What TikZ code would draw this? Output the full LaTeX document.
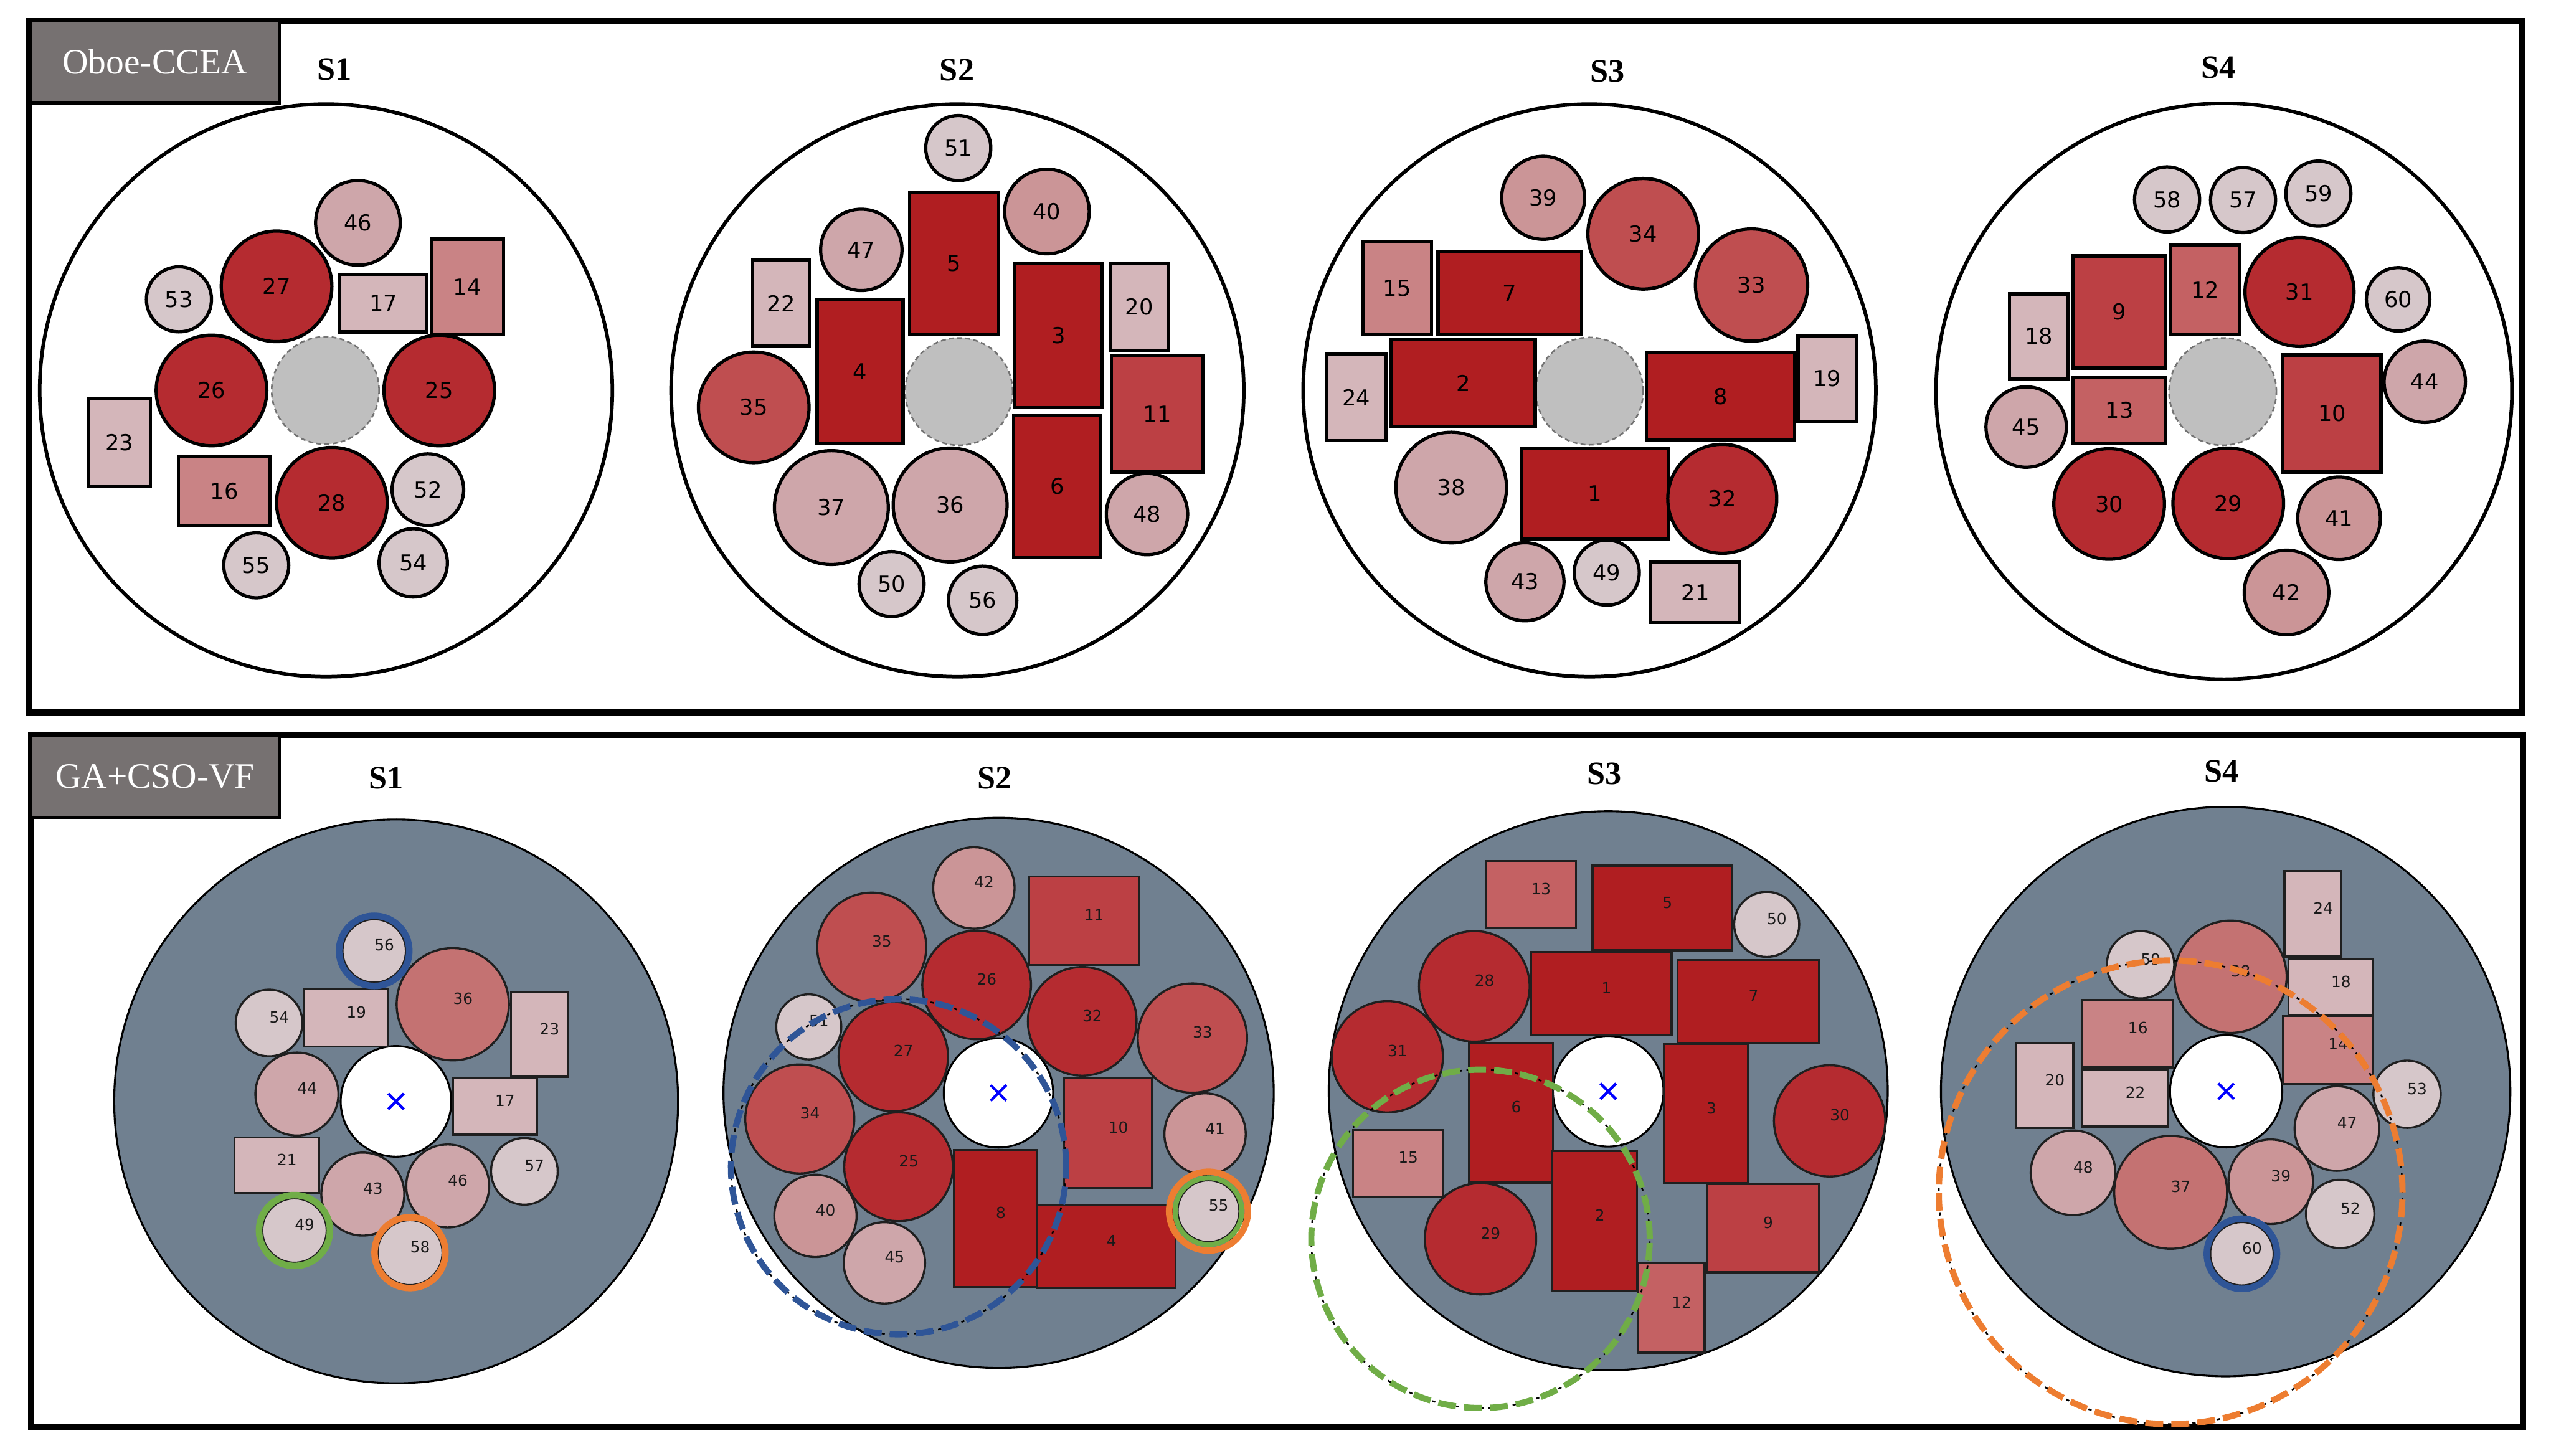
\documentclass[tikz,border=0pt]{standalone}
\usepackage{fontspec}
\setmainfont{Liberation Serif}
\newfontfamily\numfont{DejaVu Sans}
\usetikzlibrary{shapes.misc}
\definecolor{cDR}{HTML}{B01E21}
\definecolor{cRC}{HTML}{B52B30}
\definecolor{cMR}{HTML}{BF4E50}
\definecolor{cR9}{HTML}{BC4044}
\definecolor{cR12}{HTML}{C46163}
\definecolor{cR14}{HTML}{C98385}
\definecolor{cR17}{HTML}{D4B6BA}
\definecolor{cP36}{HTML}{CEA6AA}
\definecolor{cB36}{HTML}{C47272}
\definecolor{cP39}{HTML}{CB9597}
\definecolor{cP43}{HTML}{CEA6AA}
\definecolor{cL49}{HTML}{D6C7CA}
\definecolor{cBox}{HTML}{767171}
\definecolor{cSlate}{HTML}{708090}
\definecolor{cGrayC}{HTML}{BFBFBF}
\definecolor{cBlue}{HTML}{2F5597}
\definecolor{cGreen}{HTML}{70AD47}
\definecolor{cOrange}{HTML}{ED7D31}
\newcommand\TopCirc[6]{\node[tcirc, fill=#5, minimum size={2*#4*1pt}] (#1) at (#2,#3) {#6};}
\newcommand\TopRect[7]{\node[trect, fill=#6, minimum width={(#4-#2)*1pt}, minimum height={(#5-#3)*1pt}] (#1) at ({(#2+#4)/2},{(#3+#5)/2}) {#7};}
\newcommand\BotCirc[6]{\node[bcirc, fill=#5, minimum size={2*#4*1pt}] (#1) at (#2,#3) {}; \node[blbl] (#1t) at (#1.center) {#6};}
\newcommand\BotRect[7]{\node[brect, fill=#6, minimum width={(#4-#2)*1pt}, minimum height={(#5-#3)*1pt}] (#1) at ({(#2+#4)/2},{(#3+#5)/2}) {}; \node[blbl] (#1t) at (#1.center) {#7};}
\begin{document}
\begin{tikzpicture}[x=1pt,y=-1pt,
  frame/.style={draw=black, line width=3.6pt},
  labbox/.style={rectangle, fill=cBox, draw=black, line width=2pt, text=white, inner sep=0pt, font=\fontsize{22}{24}\selectfont},
  ttl/.style={inner sep=0pt, font=\bfseries\fontsize{20}{22}\selectfont},
  tshape/.style={draw=black, line width=2pt, inner sep=0pt, font=\numfont\fontsize{13.5}{14}\selectfont},
  tcirc/.style={tshape, circle},
  trect/.style={tshape, rectangle},
  bigt/.style={circle, draw=black, line width=2.2pt, fill=white, inner sep=0pt},
  grayc/.style={circle, fill=cGrayC, draw=black!55, line width=1pt, densely dashed, inner sep=0pt, minimum size=66pt},
  bshape/.style={draw=black!88, line width=1.3pt, inner sep=0pt},
  bcirc/.style={bshape, circle},
  brect/.style={bshape, rectangle},
  blbl/.style={anchor=base west, inner sep=0pt, font=\numfont\fontsize{9.5}{10}\selectfont, text=black!90},
  bigb/.style={circle, draw=black, line width=1.2pt, fill=cSlate, inner sep=0pt},
  whitec/.style={circle, draw=black, line width=1.2pt, fill=white, inner sep=0pt, minimum size=68pt},
  xmark/.style={cross out, draw=blue, line width=1.6pt, minimum size=8pt, inner sep=0pt},
  ring/.style={draw=#1, line width=4pt},
  dring/.style={draw=#1, line width=3.8pt, dash pattern=on 11pt off 5pt},
  dunder/.style={draw=black, line width=1pt, dash pattern=on 2pt off 3pt}
]
\useasboundingbox (0,0) rectangle (1568,895);
\fill[white] (0,0) rectangle (1568,895);

% ---------------- TOP ROW: Oboe-CCEA ----------------
\draw[frame] (18,13) rectangle (1550,438);
\node[labbox, minimum width=152.6pt, minimum height=50.4pt] (labA) at (95.3,38) {Oboe-CCEA};
\node[ttl] (tS1) at (205.5,42.7) {S1};
\node[ttl] (tS2) at (588.2,43.2) {S2};
\node[ttl] (tS3) at (988,44) {S3};
\node[ttl] (tS4) at (1363.5,41.5) {S4};

% S1
\node[bigt, minimum size=352pt] (t1big) at (200.4,240) {};
\node[grayc] (t1g) at (200,240) {};
\TopCirc{t1n46}{220}{137}{26}{cP43}{46}
\TopCirc{t1n27}{170}{176}{34}{cRC}{27}
\TopCirc{t1n53}{110}{184}{20}{cL49}{53}
\TopRect{t1n17}{208.8}{168.7}{262.4}{204}{cR17}{17}
\TopRect{t1n14}{265}{147}{309.4}{205.4}{cR14}{14}
\TopCirc{t1n26}{130}{240}{34}{cRC}{26}
\TopCirc{t1n25}{270}{240}{34}{cRC}{25}
\TopRect{t1n23}{54.6}{244.7}{92.4}{299.3}{cR17}{23}
\TopRect{t1n16}{109.8}{280.8}{166}{323}{cR14}{16}
\TopCirc{t1n28}{204}{309}{34}{cRC}{28}
\TopCirc{t1n52}{263}{301}{22}{cL49}{52}
\TopCirc{t1n55}{157.5}{347.5}{20}{cL49}{55}
\TopCirc{t1n54}{254}{346}{21}{cL49}{54}

% S2
\node[bigt, minimum size=352pt] (t2big) at (588.5,240) {};
\node[grayc] (t2g) at (589.4,240.7) {};
\TopCirc{t2n51}{589}{91}{20}{cL49}{51}
\TopCirc{t2n40}{643.5}{130}{26}{cP39}{40}
\TopRect{t2n5}{559.1}{118}{613.8}{205.4}{cDR}{5}
\TopCirc{t2n47}{529.4}{153.6}{25}{cP43}{47}
\TopRect{t2n22}{462.6}{160}{497.6}{212.8}{cR17}{22}
\TopRect{t2n3}{623.5}{162}{677.6}{250.4}{cDR}{3}
\TopRect{t2n20}{682.7}{162}{717.9}{215.4}{cR17}{20}
\TopRect{t2n4}{502.2}{184.4}{555.1}{272.6}{cDR}{4}
\TopCirc{t2n35}{463.3}{250.4}{34}{cMR}{35}
\TopRect{t2n11}{683}{218.5}{739.6}{290.2}{cR9}{11}
\TopRect{t2n6}{623}{255.2}{676.6}{342.8}{cDR}{6}
\TopCirc{t2n37}{511}{312}{35}{cP36}{37}
\TopCirc{t2n36}{584}{310.4}{35}{cP36}{36}
\TopCirc{t2n48}{705}{316}{25}{cP43}{48}
\TopCirc{t2n50}{548}{359}{20}{cL49}{50}
\TopCirc{t2n56}{604}{369}{21}{cL49}{56}

% S3
\node[bigt, minimum size=352pt] (t3big) at (977,240) {};
\node[grayc] (t3g) at (977,240.4) {};
\TopCirc{t3n39}{948.5}{121.6}{25.5}{cP39}{39}
\TopCirc{t3n34}{1010}{143.7}{34}{cMR}{34}
\TopCirc{t3n33}{1076.6}{175.2}{34.5}{cMR}{33}
\TopRect{t3n15}{837.7}{148.8}{879.8}{205.4}{cR14}{15}
\TopRect{t3n7}{883.9}{154.5}{972}{205.7}{cDR}{7}
\TopRect{t3n2}{855}{208.5}{943.6}{262.3}{cDR}{2}
\TopRect{t3n24}{815.5}{217.6}{852}{270.8}{cR17}{24}
\TopRect{t3n8}{1012}{216.8}{1103.2}{270.3}{cDR}{8}
\TopRect{t3n19}{1105.2}{206.3}{1141}{259}{cR17}{19}
\TopCirc{t3n38}{892}{299.7}{34}{cP36}{38}
\TopRect{t3n1}{935}{275.4}{1025.3}{331.4}{cDR}{1}
\TopCirc{t3n32}{1058.6}{306.6}{33.5}{cRC}{32}
\TopCirc{t3n43}{937.3}{357.6}{24}{cP43}{43}
\TopCirc{t3n49}{987.6}{352}{20}{cL49}{49}
\TopRect{t3n21}{1014.6}{345.7}{1069.5}{382.7}{cR17}{21}

% S4
\node[bigt, minimum size=354pt] (t4big) at (1367,240.5) {};
\node[grayc] (t4g) at (1366.2,240.7) {};
\TopCirc{t4n58}{1332}{122.6}{20}{cL49}{58}
\TopCirc{t4n57}{1378.7}{123}{20}{cL49}{57}
\TopCirc{t4n59}{1425}{119}{20}{cL49}{59}
\TopRect{t4n9}{1274.1}{157.3}{1330.8}{226.2}{cR9}{9}
\TopRect{t4n12}{1334.3}{150.8}{1376.5}{205.4}{cR12}{12}
\TopCirc{t4n31}{1413.4}{179.5}{33.5}{cRC}{31}
\TopCirc{t4n60}{1474}{184}{19.5}{cL49}{60}
\TopRect{t4n18}{1235.2}{180.7}{1271.1}{232.7}{cR17}{18}
\TopRect{t4n10}{1403.3}{218.2}{1463.5}{290.2}{cR9}{10}
\TopCirc{t4n44}{1490.4}{234.7}{25}{cP43}{44}
\TopRect{t4n13}{1274.1}{231.9}{1331.3}{272.6}{cR12}{13}
\TopCirc{t4n45}{1245.4}{262.5}{24.7}{cP43}{45}
\TopCirc{t4n30}{1296.4}{309.8}{34}{cRC}{30}
\TopCirc{t4n29}{1369.6}{309.4}{34}{cRC}{29}
\TopCirc{t4n41}{1437.7}{318.6}{25.4}{cP39}{41}
\TopCirc{t4n42}{1405.4}{364.2}{26}{cP39}{42}

% ---------------- BOTTOM ROW: GA+CSO-VF ----------------
\draw[frame] (19,452) rectangle (1551,877);
\node[labbox, minimum width=152.6pt, minimum height=50.4pt] (labB) at (95.3,477.3) {GA+CSO-VF};
\node[ttl] (bS1) at (237.4,478.3) {S1};
\node[ttl] (bS2) at (611.3,478.3) {S2};
\node[ttl] (bS3) at (986,475.7) {S3};
\node[ttl] (bS4) at (1365.4,474) {S4};

% S1
\node[bigb, minimum size=346.6pt] (b1big) at (243.5,677) {};
\node[whitec] (b1w) at (243.4,677) {};
\node[xmark] (b1x) at (b1w.center) {};
\BotCirc{b1n56}{230}{584.5}{19.5}{cL49}{56}
\BotCirc{b1n36}{278.3}{617.3}{34.5}{cB36}{36}
\BotCirc{b1n54}{165.4}{628.8}{20.5}{cL49}{54}
\BotRect{b1n19}{186.9}{608}{238.7}{643.2}{cR17}{19}
\BotRect{b1n23}{314}{610}{349}{661.9}{cR17}{23}
\BotCirc{b1n44}{182.5}{672.5}{25.5}{cP43}{44}
\BotRect{b1n17}{278.3}{662.4}{330.1}{697.4}{cR17}{17}
\BotRect{b1n21}{144.2}{699.1}{196.1}{733.5}{cR17}{21}
\BotCirc{b1n43}{223}{734}{25.5}{cP43}{43}
\BotCirc{b1n46}{275.2}{729}{25.5}{cP43}{46}
\BotCirc{b1n57}{322.3}{720}{20.5}{cL49}{57}
\BotCirc{b1n49}{181}{756.4}{19.8}{cL49}{49}
\BotCirc{b1n58}{252}{770}{20}{cL49}{58}
\draw[ring=cBlue] (b1n56.center) circle[radius=21.6pt];
\draw[ring=cGreen] (b1n49.center) circle[radius=21.8pt];
\draw[ring=cOrange] (b1n58.center) circle[radius=21.8pt];

% S2
\node[bigb, minimum size=338.2pt] (b2big) at (613.8,671.8) {};
\node[whitec, minimum size=67.2pt] (b2w) at (613.7,671.8) {};
\node[xmark] (b2x) at (b2w.center) {};
\BotCirc{b2n42}{598.6}{545.8}{25}{cP39}{42}
\BotRect{b2n11}{632.4}{538.7}{700.1}{593.1}{cR9}{11}
\BotCirc{b2n35}{535.8}{582.2}{33.5}{cMR}{35}
\BotCirc{b2n26}{600.3}{605.4}{33.4}{cRC}{26}
\BotCirc{b2n32}{665.2}{627.8}{33.4}{cRC}{32}
\BotCirc{b2n33}{732.9}{638.1}{33.6}{cMR}{33}
\BotCirc{b2n51}{497.1}{631.2}{20}{cL49}{51}
\BotCirc{b2n27}{549.1}{649.5}{33.6}{cRC}{27}
\BotCirc{b2n34}{491.6}{687.8}{33.5}{cMR}{34}
\BotRect{b2n10}{654.1}{662.4}{708.2}{730.3}{cR9}{10}
\BotCirc{b2n41}{740.7}{697.1}{25}{cP39}{41}
\BotCirc{b2n25}{552.3}{717.2}{33.4}{cRC}{25}
\BotRect{b2n8}{586.5}{706.8}{637.5}{791.3}{cDR}{8}
\BotCirc{b2n40}{501.2}{747.4}{25.3}{cP39}{40}
\BotRect{b2n4}{637.5}{740.6}{722.5}{791.9}{cDR}{4}
\BotCirc{b2n55}{742.8}{744.5}{19}{cL49}{55}
\BotCirc{b2n45}{543.6}{776.3}{25}{cP43}{45}
\draw[ring=cOrange] (b2n55.center) circle[radius=24.2pt];
\draw[draw=cGreen, line width=3pt] (b2n55.center) circle[radius=20.5pt];
\draw[dunder] (b2n25.center) circle[radius=103pt];
\draw[dring=cBlue] (b2n25.center) circle[radius=103pt];

% S3
\node[bigb, minimum size=343.6pt] (b3big) at (988.5,670.5) {};
\node[whitec] (b3w) at (988.5,670.8) {};
\node[xmark] (b3x) at (b3w.center) {};
\BotRect{b3n13}{913.3}{529.3}{968.7}{570.2}{cR12}{13}
\BotRect{b3n5}{978.9}{532.1}{1064.4}{584.2}{cDR}{5}
\BotCirc{b3n50}{1085.9}{568.2}{20}{cL49}{50}
\BotCirc{b3n28}{906.2}{606.3}{34}{cRC}{28}
\BotRect{b3n1}{941.1}{585.1}{1027.4}{636.1}{cDR}{1}
\BotRect{b3n7}{1031.2}{590}{1118}{641.5}{cDR}{7}
\BotCirc{b3n31}{852.7}{649.6}{34.2}{cRC}{31}
\BotRect{b3n6}{902.8}{641}{954.6}{726.9}{cDR}{6}
\BotRect{b3n3}{1022.8}{641.8}{1074.6}{727.4}{cDR}{3}
\BotCirc{b3n30}{1124.6}{689}{34.2}{cRC}{30}
\BotRect{b3n15}{831.6}{694.5}{887}{735.5}{cR14}{15}
\BotRect{b3n2}{954.1}{707.7}{1006.2}{793.6}{cDR}{2}
\BotCirc{b3n29}{910}{761.5}{34.2}{cRC}{29}
\BotRect{b3n9}{1049.1}{727.7}{1118}{782.1}{cR9}{9}
\BotRect{b3n12}{1007}{776.4}{1047.8}{831.4}{cR12}{12}
\draw[dunder] (b3n29.center) circle[radius=104pt];
\draw[dring=cGreen] (b3n29.center) circle[radius=104pt];

% S4
\node[bigb, minimum size=350pt] (b4big) at (1368,671) {};
\node[whitec, minimum size=69pt] (b4w) at (1368.3,670.8) {};
\node[xmark] (b4x) at (b4w.center) {};
\BotRect{b4n24}{1404.1}{535.6}{1439.2}{588}{cR17}{24}
\BotCirc{b4n59}{1315.7}{593}{20.7}{cL49}{59}
\BotCirc{b4n38}{1371}{600.4}{34.5}{cB36}{38}
\BotRect{b4n18}{1406.6}{589.4}{1458.8}{624.3}{cR17}{18}
\BotRect{b4n16}{1279.9}{614.6}{1335.8}{656.1}{cR14}{16}
\BotRect{b4n14}{1403.3}{624.6}{1458.5}{666.2}{cR14}{14}
\BotRect{b4n20}{1239.2}{641.5}{1274.4}{693.4}{cR17}{20}
\BotRect{b4n22}{1279.9}{657.6}{1332.6}{692.5}{cR17}{22}
\BotCirc{b4n53}{1479.5}{672.6}{20.7}{cL49}{53}
\BotCirc{b4n47}{1436.4}{693.7}{26}{cP43}{47}
\BotCirc{b4n48}{1274.2}{720.9}{26}{cP43}{48}
\BotCirc{b4n37}{1334.2}{732.9}{34.7}{cB36}{37}
\BotCirc{b4n39}{1395.7}{726.4}{26}{cP39}{39}
\BotCirc{b4n52}{1438.4}{746.2}{21}{cL49}{52}
\BotCirc{b4n60}{1378}{770.7}{19.5}{cL49}{60}
\draw[ring=cBlue] (b4n60.center) circle[radius=21.6pt];
\draw[dunder] (b4n37.center) circle[radius=142.5pt];
\draw[dring=cOrange] (b4n37.center) circle[radius=142.5pt];
\end{tikzpicture}
\end{document}
